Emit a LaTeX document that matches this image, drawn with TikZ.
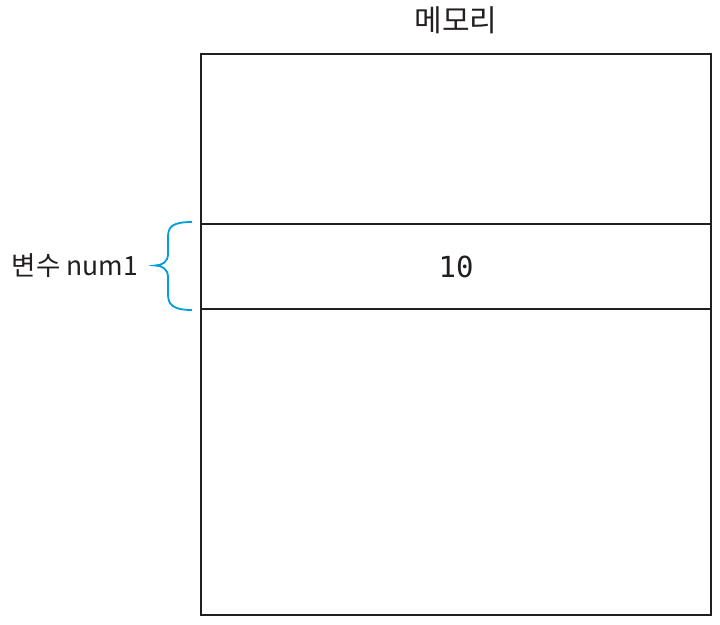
\documentclass[tikz,border=0pt]{standalone}
\usepackage{fontspec}
\setmainfont{Noto Sans CJK KR}
\setmonofont{DejaVu Sans Mono}
\usetikzlibrary{positioning, calc}
\definecolor{ink}{RGB}{35,31,32}
\definecolor{bracecol}{RGB}{0,158,219}

\begin{document}
\begin{tikzpicture}[x=1pt, y=-1pt, line width=1.7pt, node distance=0pt,
    cell/.style={draw=ink, minimum width=510pt, inner sep=0pt, outer sep=0pt},
    txt/.style={text=ink, font=\fontsize{26.5}{32}\selectfont}]
  \useasboundingbox (0,0) rectangle (720,624);
  % memory cells
  \node[cell, minimum height=170pt, anchor=north west] (upper) at (201,54) {};
  \node[cell, minimum height=85pt, below=of upper, text=ink,
        font=\ttfamily\fontsize{29}{32}\selectfont] (var) {10};
  \node[cell, minimum height=306pt, below=of var] (lower) {};
  % title
  \node[txt, font=\fontsize{30}{34}\selectfont] (title) at (456,20) {메모리};
  % variable label with brace
  \coordinate (bracetop) at ($(var.north west)+(-9pt,2pt)$);
  \coordinate (bracebot) at ($(var.south west)+(-9pt,-1pt)$);
  \draw[bracecol, line width=1.8pt] (bracetop)
    .. controls +(-20,0) and +(0,-10) .. ++(-24,15) -- ++(0,17)
    .. controls +(0,8) and +(7,0) .. ++(-13,11.5) coordinate (bracetip)
    .. controls +(7,0) and +(0,-8) .. ++(13,11.5) -- ++(0,17)
    .. controls +(0,10) and +(-20,0) .. (bracebot);
  \node[txt, anchor=east] (label) at ($(bracetip)+(-13pt,0)$) {변수 num1};
\end{tikzpicture}
\end{document}
